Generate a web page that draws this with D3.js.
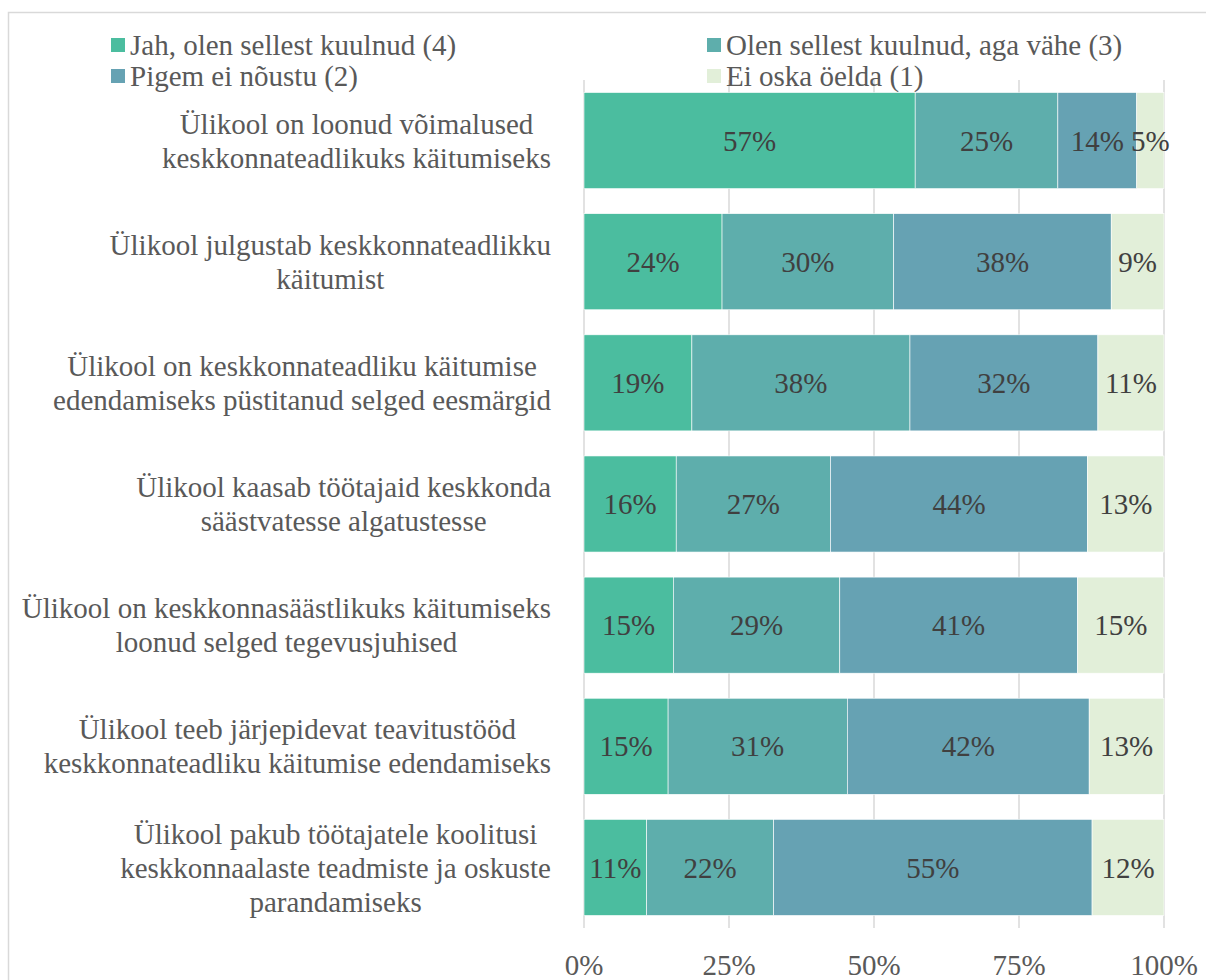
<!DOCTYPE html>
<html>
<head>
<meta charset="utf-8">
<script src="https://cdn.jsdelivr.net/npm/d3@7"></script>
<style>
  body { margin: 0; background: #fff; }
</style>
</head>
<body>
<div id="chart"></div>
<script>
// categories (line breaks as in the original)
var categories = [
  "Ülikool on loonud võimalused\nkeskkonnateadlikuks käitumiseks",
  "Ülikool julgustab keskkonnateadlikku\nkäitumist",
  "Ülikool on keskkonnateadliku käitumise\nedendamiseks püstitanud selged eesmärgid",
  "Ülikool kaasab töötajaid keskkonda\nsäästvatesse algatustesse",
  "Ülikool on keskkonnasäästlikuks käitumiseks\nloonud selged tegevusjuhised",
  "Ülikool teeb järjepidevat teavitustööd\nkeskkonnateadliku käitumise edendamiseks",
  "Ülikool pakub töötajatele koolitusi\nkeskkonnaalaste teadmiste ja oskuste\nparandamiseks"
];

// series values, percent
var jah    = [57.1, 23.8, 18.6, 15.9, 15.4, 14.5, 10.8];
var olen   = [24.6, 29.6, 37.6, 26.6, 28.7, 30.9, 21.9];
var pigem  = [13.6, 37.5, 32.4, 44.3, 41.0, 41.7, 54.9];
var eiOska = [ 4.7,  9.1, 11.4, 13.2, 14.9, 12.9, 12.4];

var seriesNames = ["Jah, olen sellest kuulnud (4)", "Olen sellest kuulnud, aga vähe (3)",
                   "Pigem ei nõustu (2)", "Ei oska öelda (1)"];
var colors = ["#4bbd9f", "#5eaeac", "#66a2b3", "#e2efd9"];
var xTicks = [0, 25, 50, 75, 100];

var W = 1206, H = 980;
var fontSize = 29;
var font = "'Liberation Serif'";

var svg = d3.select("#chart").append("svg")
    .attr("width", W).attr("height", H);

svg.append("rect").attr("width", W).attr("height", H).attr("fill", "#fff");

// chart border (right/bottom edges fall outside the picture)
svg.append("rect")
    .attr("x", 8.5).attr("y", 12.5)
    .attr("width", 1220).attr("height", 1000)
    .attr("fill", "none").attr("stroke", "#d9d9d9").attr("stroke-width", 1.5);

var x = d3.scaleLinear().domain([0, 100]).range([584, 1164]);
var y = d3.scaleBand().domain(categories).range([80, 928])
    .paddingInner(0.207).paddingOuter(0.1035);

// stack data
var table = categories.map(function(c, i) {
  return {cat: c, s0: jah[i], s1: olen[i], s2: pigem[i], s3: eiOska[i]};
});
var stack = d3.stack().keys(["s0", "s1", "s2", "s3"])(table);

// gridlines
svg.append("g").selectAll("line")
  .data(xTicks).join("line")
    .attr("x1", function(d) { return x(d); })
    .attr("x2", function(d) { return x(d); })
    .attr("y1", 80).attr("y2", 928)
    .attr("stroke", "#d9d9d9").attr("stroke-width", 1.5);

// bars
var layers = svg.append("g").selectAll("g")
  .data(stack).join("g")
    .attr("fill", function(d, i) { return colors[i]; });

layers.selectAll("rect")
  .data(function(d) { return d; }).join("rect")
    .attr("x", function(d) { return x(d[0]); })
    .attr("width", function(d) { return x(d[1]) - x(d[0]); })
    .attr("y", function(d) { return y(d.data.cat); })
    .attr("height", y.bandwidth())
    .attr("stroke", "#fff").attr("stroke-width", 0.6);

// data labels
layers.selectAll("text")
  .data(function(d) { return d; }).join("text")
    .attr("x", function(d) { return (x(d[0]) + x(d[1])) / 2; })
    .attr("y", function(d) { return y(d.data.cat) + y.bandwidth() / 2; })
    .attr("dy", "0.35em")
    .attr("text-anchor", "middle")
    .attr("fill", "#404040")
    .attr("font-size", fontSize)
    .style("font-family", font)
    .text(function(d) { return Math.round(d[1] - d[0]) + "%"; });

// x axis labels
svg.append("g").selectAll("text")
  .data(xTicks).join("text")
    .attr("x", function(d) { return x(d); })
    .attr("y", 975)
    .attr("text-anchor", "middle")
    .attr("fill", "#595959")
    .attr("font-size", fontSize)
    .style("font-family", font)
    .text(function(d) { return d + "%"; });

// category labels: block right-aligned, lines centred in block
var labelRight = 551, lineH = 34;
categories.forEach(function(c) {
  var lines = c.split("\n");
  var g = svg.append("g");
  var texts = g.selectAll("text").data(lines).join("text")
      .attr("text-anchor", "middle")
      .attr("fill", "#595959")
      .attr("font-size", fontSize)
      .style("font-family", font)
      .attr("y", function(d, i) {
        return y(c) + y.bandwidth() / 2 + (i - (lines.length - 1) / 2) * lineH;
      })
      .attr("dy", "0.35em")
      .text(function(d) { return d; });
  var maxW = d3.max(texts.nodes(), function(n) { return n.getComputedTextLength(); });
  texts.attr("x", labelRight - maxW / 2);
});

// legend
var legendPos = [[111, 45], [707, 45], [111, 76], [707, 76]];
var legend = svg.append("g").selectAll("g")
  .data(seriesNames).join("g")
    .attr("transform", function(d, i) { return "translate(" + legendPos[i][0] + "," + legendPos[i][1] + ")"; });
legend.append("rect")
    .attr("x", 0).attr("y", -7).attr("width", 14).attr("height", 14)
    .attr("fill", function(d, i) { return colors[i]; });
legend.append("text")
    .attr("x", 19).attr("dy", "0.35em")
    .attr("fill", "#595959")
    .attr("font-size", fontSize)
    .style("font-family", font)
    .text(function(d) { return d; });
</script>
</body>
</html>
